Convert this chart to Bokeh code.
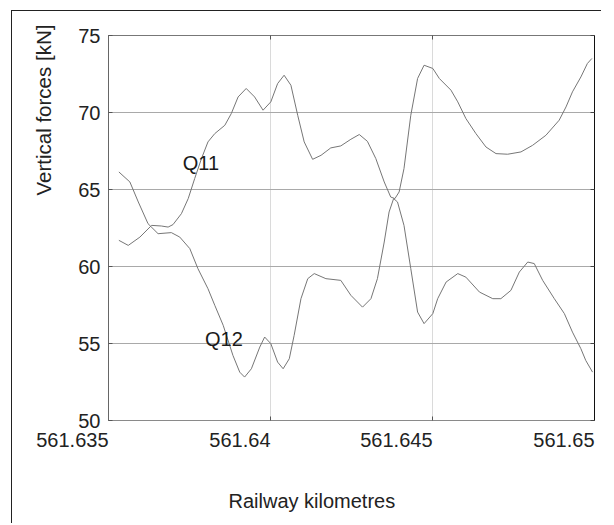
import math
from bokeh.plotting import figure
from bokeh.models import (Range1d, LinearAxis, FixedTicker, NumeralTickFormatter,
                          CustomJSTickFormatter, Label, Title)
from bokeh.embed import file_html
from bokeh.resources import INLINE

# ---- data ----
km_q11 = [561.63532, 561.63561, 561.63597, 561.63633, 561.63663, 561.63684, 561.63699,
          561.63725, 561.63746, 561.63766, 561.63787, 561.63807, 561.63828, 561.63859,
          561.63879, 561.63900, 561.63925, 561.63951, 561.63977, 561.64001, 561.64022,
          561.64042, 561.64063, 561.64084, 561.64104, 561.64130, 561.64156, 561.64186,
          561.64217, 561.64248, 561.64274, 561.64299, 561.64325, 561.64351, 561.64371,
          561.64384, 561.64397, 561.64412, 561.64433, 561.64454, 561.64474, 561.64501,
          561.64521, 561.64557, 561.64578, 561.64603, 561.64634, 561.64665, 561.64696,
          561.64732, 561.64773, 561.64809, 561.64850, 561.64891, 561.64912, 561.64932,
          561.64958, 561.64978, 561.64992]
q11 = [61.70, 61.37, 61.91, 62.67, 62.63, 62.56, 62.72, 63.43, 64.41, 65.71,
       67.01, 68.09, 68.63, 69.17, 69.93, 71.01, 71.56, 71.01, 70.15, 70.69,
       71.88, 72.42, 71.77, 69.82, 68.09, 66.96, 67.22, 67.70, 67.83, 68.26,
       68.57, 68.13, 67.01, 65.49, 64.51, 64.41, 64.84, 66.36, 69.82, 72.21,
       73.07, 72.86, 72.21, 71.45, 70.69, 69.61, 68.63, 67.76, 67.33, 67.29,
       67.44, 67.87, 68.52, 69.50, 70.36, 71.34, 72.31, 73.18, 73.51]

km_q12 = [561.63532, 561.63566, 561.63592, 561.63622, 561.63653, 561.63694, 561.63720,
          561.63751, 561.63776, 561.63807, 561.63828, 561.63854, 561.63884, 561.63905,
          561.63920, 561.63941, 561.63967, 561.63982, 561.64001, 561.64022, 561.64039,
          561.64058, 561.64073, 561.64094, 561.64115, 561.64135, 561.64171, 561.64217,
          561.64248, 561.64284, 561.64310, 561.64330, 561.64351, 561.64366, 561.64380,
          561.64392, 561.64412, 561.64433, 561.64454, 561.64474, 561.64501, 561.64516,
          561.64542, 561.64578, 561.64603, 561.64645, 561.64686, 561.64711, 561.64742,
          561.64768, 561.64794, 561.64814, 561.64840, 561.64876, 561.64907, 561.64932,
          561.64958, 561.64973, 561.64994]
q12 = [66.14, 65.49, 64.19, 62.78, 62.13, 62.20, 61.91, 61.16, 59.86, 58.56,
       57.48, 56.18, 54.23, 53.14, 52.82, 53.36, 54.77, 55.42, 54.99, 53.79,
       53.36, 54.01, 55.53, 57.91, 59.21, 59.54, 59.21, 59.10, 58.13, 57.36,
       57.91, 59.21, 61.59, 63.54, 64.41, 64.19, 62.67, 59.86, 57.04, 56.29,
       56.94, 57.91, 58.99, 59.54, 59.31, 58.34, 57.91, 57.91, 58.45, 59.64,
       60.29, 60.19, 59.10, 57.91, 56.94, 55.74, 54.66, 53.90, 53.14]

x_ticks = [561.635, 561.64, 561.645, 561.65]
y_ticks = [50, 55, 60, 65, 70, 75]
series_names = ["Q11", "Q12"]
series_label_pos = [(561.63729, 66.70), (561.63798, 55.30)]
x_title = "Railway kilometres"
y_title = "Vertical forces [kN]"

FONT = "Liberation Sans"

p = figure(width=590, height=513,
           x_range=Range1d(x_ticks[0], x_ticks[-1]),
           y_range=Range1d(y_ticks[0], y_ticks[-1]),
           output_backend="svg", toolbar_location=None,
           min_border_left=95, min_border_right=8,
           min_border_top=24, min_border_bottom=104)
p.title.visible = False
p.outline_line_color = None
p.background_fill_color = "white"
p.border_fill_color = "white"
p.margin = (10, 0, 0, 11)
p.styles = {"border-left": "1px solid #222222", "border-top": "1px solid #222222"}

# grids
p.xgrid.ticker = FixedTicker(ticks=x_ticks)
p.xgrid.grid_line_color = "#dadada"
p.ygrid.ticker = FixedTicker(ticks=y_ticks)
p.ygrid.grid_line_color = "#a9a9a9"

# bottom axis
xa = p.xaxis[0]
xa.ticker = FixedTicker(ticks=x_ticks)
xa.formatter = NumeralTickFormatter(format="0.[000]")
xa.major_tick_in = 4
xa.major_tick_out = 0
xa.minor_tick_line_color = None
xa.axis_line_color = "#8a8a8a"
xa.major_tick_line_color = "#555555"
xa.major_label_text_font = FONT
xa.major_label_text_font_size = "20px"
xa.major_label_text_color = "#222222"
xa.major_label_orientation = 0.0001   # near-horizontal: labels end at their tick
xa.major_label_standoff = 19

# left axis
ya = p.yaxis[0]
ya.ticker = FixedTicker(ticks=y_ticks)
ya.major_tick_in = 4
ya.major_tick_out = 0
ya.minor_tick_line_color = None
ya.axis_line_color = "#666666"
ya.major_tick_line_color = "#555555"
ya.major_label_text_font = FONT
ya.major_label_text_font_size = "20px"
ya.major_label_text_color = "#222222"
ya.major_label_standoff = 8

blank = CustomJSTickFormatter(code="return ''")
top = LinearAxis(ticker=FixedTicker(ticks=x_ticks), formatter=blank,
                 major_tick_in=4, major_tick_out=0, minor_tick_line_color=None,
                 axis_line_color="#777777", major_tick_line_color="#555555",
                 major_label_standoff=0)
p.add_layout(top, "above")
right = LinearAxis(ticker=FixedTicker(ticks=y_ticks), formatter=blank,
                   major_tick_in=4, major_tick_out=0, minor_tick_line_color=None,
                   axis_line_color="#111111", major_tick_line_color="#444444",
                   major_label_standoff=0)
p.add_layout(right, "right")

# curves
p.line(km_q11, q11, line_color="#767676", line_width=1)
p.line(km_q12, q12, line_color="#767676", line_width=1)

for name, (lx, ly) in zip(series_names, series_label_pos):
    p.add_layout(Label(x=lx, y=ly, text=name, text_font=FONT, text_font_size="20px",
                       text_color="#1a1a1a", text_align="left",
                       text_baseline="alphabetic"))

# axis titles placed in the side panels
spacer = Title(text=" ", standoff=8, text_font=FONT, text_font_size="20px")
p.add_layout(spacer, "below")
p.add_layout(Title(text=x_title, align="left", offset=120, standoff=2,
                   vertical_align="top", text_font=FONT, text_font_size="20px",
                   text_font_style="normal", text_color="#222222"), "below")
p.add_layout(Title(text=y_title, align="left", offset=225, standoff=38,
                   vertical_align="top", text_font=FONT, text_font_size="20.5px",
                   text_font_style="normal", text_color="#222222"), "left")

open("out.html", "w").write(file_html(p, INLINE))
